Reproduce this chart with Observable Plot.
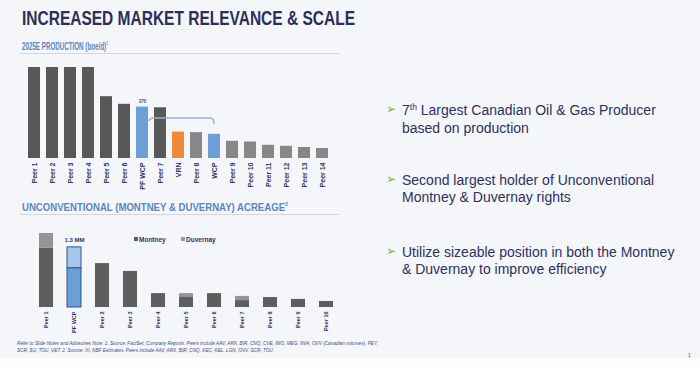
<!DOCTYPE html>
<html><head><meta charset="utf-8">
<script src="https://cdn.jsdelivr.net/npm/d3@7"></script>
<script src="https://cdn.jsdelivr.net/npm/@observablehq/plot@0.6"></script>
<style>
body{margin:0;width:700px;height:368px;background:#f5f6fa;position:relative;overflow:hidden;font-family:"Liberation Sans",Arial,sans-serif}
.abs{position:absolute;white-space:nowrap;line-height:1;transform-origin:0 0}
#title{left:22px;top:7px;font-size:21px;font-weight:bold;color:#2d2f5b}
.sub{font-size:11px;font-weight:bold;color:#5a86c0}
.rule{position:absolute;height:1px;background:#d3d6df}
.pt{font-size:14px;color:#2e3160;left:402px}
.bul{font-family:"DejaVu Sans";font-size:12px;color:#7cb342;left:386px}
.foot{font-size:6px;font-style:italic;color:#3f4d7f;left:17px}
.leg{font-size:6.5px;font-weight:bold;color:#2d3566}
.sq{position:absolute;width:4px;height:4px}
#white{position:absolute;left:0;top:358px;width:700px;height:10px;background:#fdfdfe}
svg{position:absolute;left:0;overflow:visible}
</style></head>
<body>
<div id="white"></div>
<div class="abs" id="title">INCREASED MARKET RELEVANCE &amp; SCALE</div>
<div class="abs sub" id="sub1" style="left:22px;top:39.7px">2025E PRODUCTION (boe/d)<sup style="font-size:6px">1</sup></div>
<div class="rule" style="left:20px;top:53px;width:320px"></div>
<div class="abs sub" id="sub2" style="left:22px;top:201px">UNCONVENTIONAL (MONTNEY &amp; DUVERNAY) ACREAGE<sup style="font-size:6px">2</sup></div>
<div class="rule" style="left:20px;top:214px;width:320px"></div>

<div class="sq" style="left:134px;top:237px;background:#5e5e5e"></div>
<div class="abs leg" style="left:139px;top:236.5px">Montney</div>
<div class="sq" style="left:181px;top:237px;background:#9a9a9a"></div>
<div class="abs leg" style="left:186px;top:236.5px">Duvernay</div>

<div class="abs bul" style="top:103px">➢</div>
<div class="abs pt" style="top:103.1px">7<sup style="font-size:8.5px;vertical-align:5px;line-height:0">th</sup> Largest Canadian Oil &amp; Gas Producer</div>
<div class="abs pt" style="top:121.1px">based on production</div>
<div class="abs bul" style="top:173px">➢</div>
<div class="abs pt" style="top:173.1px">Second largest holder of Unconventional</div>
<div class="abs pt" style="top:190.1px">Montney &amp; Duvernay rights</div>
<div class="abs bul" style="top:245px">➢</div>
<div class="abs pt" style="top:245.1px">Utilize sizeable position in both the Montney</div>
<div class="abs pt" style="top:262.1px">&amp; Duvernay to improve efficiency</div>

<div class="abs foot" id="f1" style="top:339.5px">Refer to Slide Notes and Advisories Note: 1. Source: FactSet, Company Reports. Peers include AAV, ARX, BIR, CNQ, CVE, IMO, MEG, NVA, OVV (Canadian volumes), PEY,</div>
<div class="abs foot" id="f2" style="top:346.5px">SCR, SU, TOU, VET. 2. Source: XI, NBF Estimates. Peers include AAV, ARX, BIR, CNQ, KEC, KEL, LGN, OVV, SCR, TOU.</div>
<div class="abs" style="left:688px;top:353px;font-size:5px;color:#555">1</div>

<div id="c1"></div>
<div id="c2"></div>
<script>
// ---- Production (boe/d, thousands) ----
const prodNames = ["Peer 1","Peer 2","Peer 3","Peer 4","Peer 5","Peer 6","PF WCP","Peer 7","VRN","Peer 8","WCP","Peer 9","Peer 10","Peer 11","Peer 12","Peer 13","Peer 14"];
const prodValues = [655,655,655,655,445,390,370,365,190,186,174,124,119,95,88,79,72];
const prodColors = ["#585858","#585858","#585858","#585858","#585858","#585858","#6c9fd6","#585858","#ee8a3e","#878787","#6c9fd6","#878787","#878787","#878787","#878787","#878787","#878787"];
const prodLabel = {name:"PF WCP", text:"370"};
const bracketFrom = "PF WCP", bracketTo = "WCP";
const bracketLevels = [266, 288, 245];

// ---- Acreage (thousand acres) ----
const acreNames = ["Peer 1","PF WCP","Peer 2","Peer 3","Peer 4","Peer 5","Peer 6","Peer 7","Peer 8","Peer 9","Peer 10"];
const montney  = [1280,850,950,780,300,230,300,150,215,175,130];
const duvernay = [320,450,0,0,0,70,0,90,0,0,0];
const acreLabel = {name:"PF WCP", text:"1.3 MM", value:1300};

const prodData = prodNames.map((n,i)=>({name:n, value:prodValues[i], color:prodColors[i]}));

const bracketMark = (index, scales, values, dimensions) => {
  const x = scales.x, y = scales.y;
  const bw = x.bandwidth ? x.bandwidth() : 0;
  const x0 = x(bracketFrom) + bw + 3, x1 = x(bracketTo) + bw/2;
  const ya = y(bracketLevels[0]), yh = y(bracketLevels[1]), yb = y(bracketLevels[2]);
  const p = d3.create("svg:path")
    .attr("d", `M${x0-2},${ya} Q${x0-2},${yh} ${x0+4},${yh} L${x1-4},${yh} Q${x1},${yh} ${x1},${yb}`)
    .attr("fill","none").attr("stroke","#8fb3dc").attr("stroke-width",1.5);
  return p.node();
};

const chartTop = Plot.plot({
  width: 340, height: 200, marginLeft: 17, marginRight: 0.5, marginTop: 67, marginBottom: 42,
  style: {background:"transparent", fontFamily:"Liberation Sans, Arial, sans-serif", fontSize:"7px", fontWeight:"bold", color:"#2d3566"},
  x: {domain: prodNames, padding: 0.33, label: null, tickSize: 0, tickRotate: -90, tickPadding: 4},
  y: {domain: [0, 655], axis: null},
  marks: [
    Plot.barY(prodData, {x:"name", y:"value", fill:"color"}),
    Plot.text(prodData.filter(d=>d.name===prodLabel.name), {x:"name", y:"value", text:()=>prodLabel.text, dy:-6, fontSize:4.5, fill:"#2f5597", fontWeight:"bold"}),
    bracketMark
  ]
});
chartTop.style.top = "0px";
document.getElementById("c1").append(chartTop);

const acreData = [];
acreNames.forEach((n,i)=>{
  const pf = n === "PF WCP";
  acreData.push({name:n, type:"Montney", value:montney[i], color: pf ? "#6c9fd6" : "#5e5e5e", stroke: pf ? "#2f5597" : "none"});
  acreData.push({name:n, type:"Duvernay", value:duvernay[i], color: pf ? "#a9c6e8" : "#959595", stroke: pf ? "#2f5597" : "none"});
});

const chartBot = Plot.plot({
  width: 351, height: 120, marginLeft: 20.6, marginRight: 0.4, marginTop: 18, marginBottom: 28,
  style: {background:"transparent", fontFamily:"Liberation Sans, Arial, sans-serif", fontSize:"5.5px", fontWeight:"bold", color:"#2d3566"},
  x: {domain: acreNames, padding: 0.5, label: null, tickSize: 0, tickRotate: -90, tickPadding: 4},
  y: {domain: [0, 1600], axis: null},
  marks: [
    Plot.barY(acreData.filter(d=>d.value>0), {x:"name", y:"value", fill:"color", stroke:"stroke", strokeWidth:1}),
    Plot.text([acreLabel], {x:"name", y:"value", text:"text", dy:-7, fontSize:6, fill:"#2d3566", fontWeight:"bold"})
  ]
});
chartBot.style.top = "215px";
document.getElementById("c2").append(chartBot);

function fit(id, w){ const el=document.getElementById(id); const r=el.getBoundingClientRect().width; el.style.transform=`scaleX(${w/r})`; return w/r; }
fit("title", 333);
fit("sub1", 86);
fit("sub2", 266);
const s = fit("f1", 361);
document.getElementById("f2").style.transform = `scaleX(${s})`;
</script>
</body></html>
